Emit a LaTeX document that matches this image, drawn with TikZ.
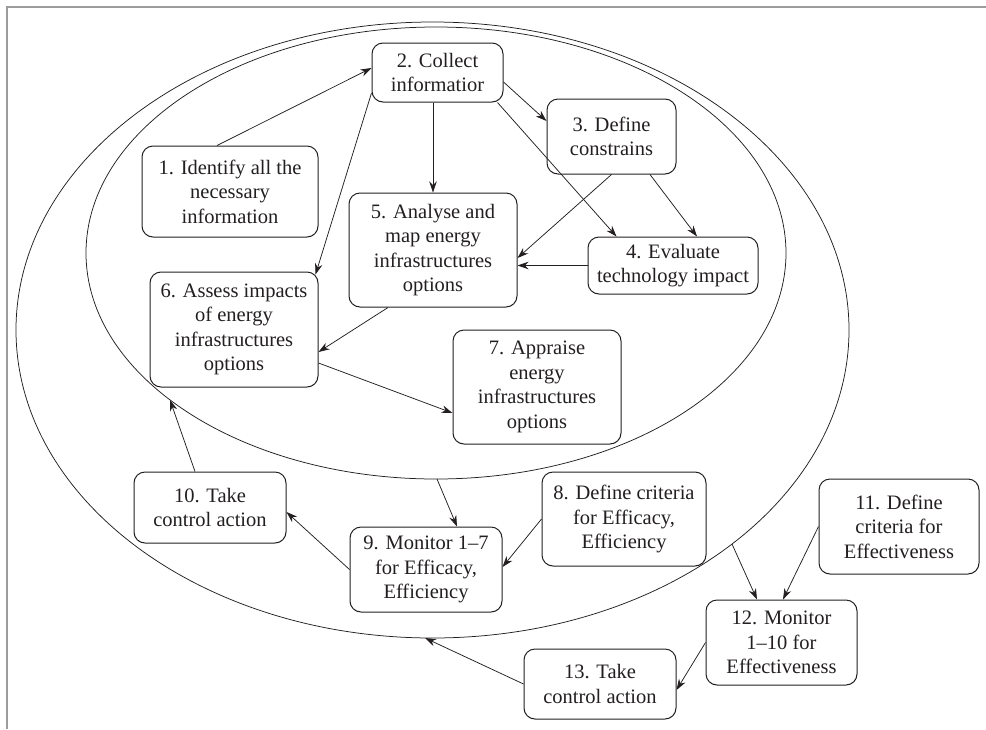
\documentclass[tikz,border=0pt]{standalone}
\usepackage{fontspec}
\setmainfont{Liberation Serif}
\usetikzlibrary{positioning,arrows.meta}
\definecolor{tinta}{HTML}{231F20}
\definecolor{marco}{HTML}{9C9C9C}

\begin{document}
\begin{tikzpicture}[x=1pt, y=-1pt, color=tinta,
      font=\fontsize{20.5}{24.5}\selectfont,
      p/.style={draw, rounded corners=11pt, align=center, inner sep=2pt, line width=1pt},
      f/.style={-{Stealth[length=11pt,width=7.5pt]}, line width=0.75pt},
      el/.style={line width=0.75pt}]

    \useasboundingbox (0,0) rectangle (986,729);
    \draw[marco, line width=1.6pt] (7,729) -- (7,7) -- (986,7);

    % --- Los dos lazos -----------------------------------------------------
    \draw[el] (432.5,330) ellipse [x radius=416.5, y radius=308];
    \draw[el] (436,253) ellipse [x radius=350, y radius=226];
    \coordinate (i9) at (437,479);
    \coordinate (i10) at (170,400);
    \coordinate (o12) at (732,544);
    \coordinate (o13) at (425,638);

    % --- Lazo interior: planificacion --------------------------------------
    \node[p, minimum width=176pt, minimum height=91pt] (n1) at (230,191.5)
      {1. Identify all the\\necessary\\information};
    \node[p, minimum width=131pt, minimum height=59pt] (n2) at (437.5,72.5)
      {2. Collect\\informatior};
    \node[p, minimum width=129pt, minimum height=75pt] (n3) at (611.5,136.5)
      {3. Define\\constrains};
    \node[p, minimum width=170pt, minimum height=57pt] (n4) at (673,265.5)
      {4. Evaluate\\technology impact};
    \node[p, minimum width=168pt, minimum height=114pt] (n5) at (433,250)
      {5. Analyse and\\map energy\\infrastructures\\options};
    \node[p, minimum width=168pt, minimum height=115pt] (n6) at (234,329.5)
      {6. Assess impacts\\of energy\\infrastructures\\options};
    \node[p, minimum width=168pt, minimum height=114pt] (n7) at (537,387)
      {7. Appraise\\energy\\infrastructures\\options};

    \draw[f] ([xshift=-13pt]n1.north) -- ([yshift=4.5pt]n2.west);
    \draw[f] ([yshift=-9.5pt]n2.east) -- ([yshift=15.5pt]n3.west);
    \draw[f] (n2.south -| n5.north) -- (n5.north);
    \draw[f] ([xshift=-6pt]n2.south east) -- ([xshift=29pt]n4.north west);
    \draw[f] ([xshift=38.5pt]n3.south) -- ([xshift=24pt]n4.north);
    \draw[f] (n3.south) -- ([yshift=-8pt]n5.east);
    \draw[f] (n4.west) -- (n5.east |- n4.west);
    \draw[f] ([yshift=-20.5pt]n2.west) -- ([xshift=-3pt,yshift=-3pt]n6.north east);
    \draw[f] ([xshift=-45pt]n5.south) -- ([yshift=-22.5pt]n6.east);
    \draw[f] ([yshift=-33.5pt]n6.east) -- ([yshift=-26pt]n7.west);

    % --- Lazo medio: eficacia y eficiencia ---------------------------------
    \node[p, minimum width=164pt, minimum height=94pt] (n8) at (624,519)
      {8. Define criteria\\for Efficacy,\\Efficiency};
    \node[p, minimum width=152pt, minimum height=85pt] (n9) at (426,569.5)
      {9. Monitor 1--7\\for Efficacy,\\Efficiency};
    \node[p, minimum width=152pt, minimum height=71pt] (n10) at (210,507.5)
      {10. Take\\control action};

    \draw[f] (i9) -- ([xshift=31pt]n9.north);
    \draw[f] (n8.west) -- ([yshift=2.5pt]n9.east);
    \draw[f] (n9.west) -- ([yshift=-4.5pt]n10.east);
    \draw[f] ([xshift=-15pt]n10.north) -- (i10);

    % --- Lazo exterior: efectividad ----------------------------------------
    \node[p, minimum width=160pt, minimum height=95pt] (n11) at (899,526.5)
      {11. Define\\criteria for\\Effectiveness};
    \node[p, minimum width=151pt, minimum height=85pt] (n12) at (781.5,642.5)
      {12. Monitor\\1--10 for\\Effectiveness};
    \node[p, minimum width=152pt, minimum height=70pt] (n13) at (600,684)
      {13. Take\\control action};

    \draw[f] (o12) -- ([xshift=-24.5pt]n12.north);
    \draw[f] (n11.west) -- ([xshift=1.5pt]n12.north);
    \draw[f] (n12.west) -- ([yshift=-6pt]n13.east);
    \draw[f] (n13.west) -- (o13);
  \end{tikzpicture}
\end{document}
